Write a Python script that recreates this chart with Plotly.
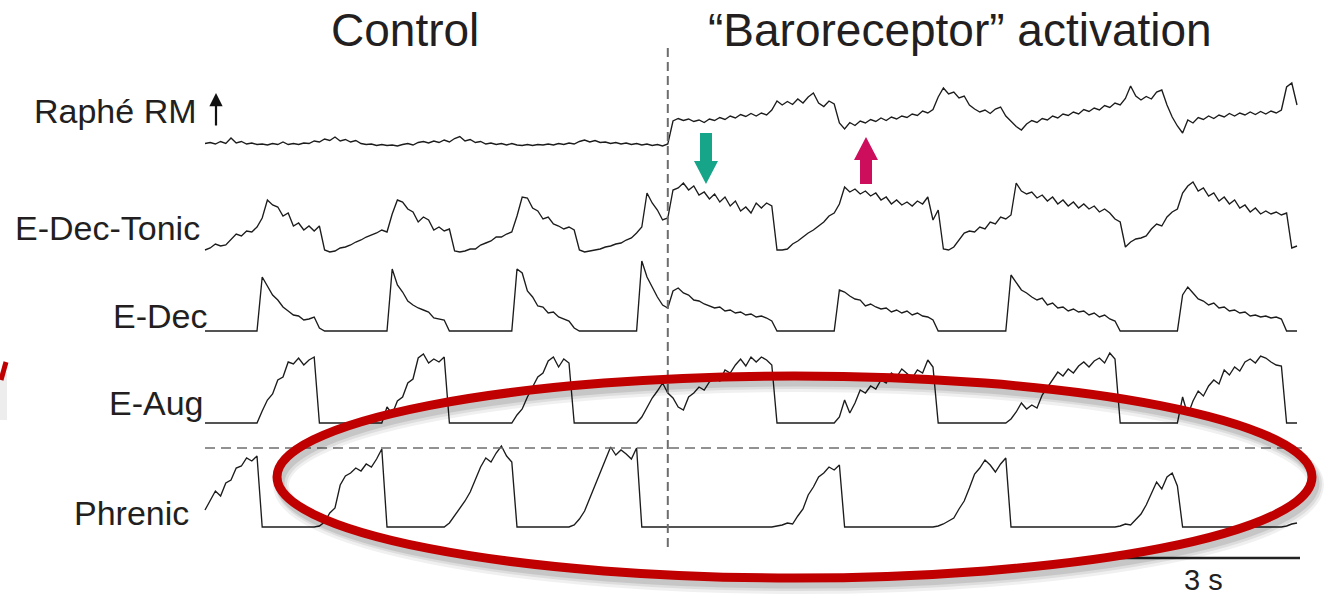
import numpy as np
import plotly.graph_objects as go

W, H = 1327, 597   # figure size (px)
DT = 0.08
PX_PER_S = 65.0    # 3 s scale bar = 195 px
T0_PX = 205        # left edge of traces (px)

raphe_rm = [
    3.5, 4.5, 3.0, 5.5, 3.5, 9.0, 4.0, 5.5, 3.0, 4.0,
    2.5, 3.0, 2.0, 3.5, 2.5, 5.0, 2.5, 3.5, 2.5, 4.0,
    3.5, 6.0, 5.0, 8.0, 6.5, 10.0, 6.0, 7.5, 5.0, 6.5,
    3.5, 2.5, 3.0, 1.5, 2.5, 1.5, 2.0, 1.0, 2.5, 3.5,
    2.0, 4.5, 5.5, 4.0, 6.0, 4.5, 7.0, 5.0, 8.5, 10.5,
    6.0, 7.5, 4.5, 5.5, 3.0, 4.0, 2.5, 3.5, 2.0, 3.5,
    2.0, 1.5, 2.5, 1.5, 2.5, 2.0, 3.0, 2.0, 3.5, 2.5,
    4.0, 3.0, 5.5, 7.0, 5.0, 6.5, 4.5, 5.0, 3.5, 4.5,
    3.0, 4.0, 2.5, 3.5, 2.0, 3.0, 1.5, 2.5, 1.0, 3.0,
    26.0, 28.5, 26.5, 28.0, 25.5, 27.0, 24.5, 28.0, 26.5, 29.5,
    27.5, 31.0, 29.0, 32.5, 30.5, 33.5, 31.0, 34.0, 32.0, 37.0,
    46.0, 42.0, 45.5, 42.5, 48.0, 44.0, 50.0, 54.0, 44.0, 40.5,
    46.0, 43.0, 24.0, 18.0, 24.5, 21.5, 26.0, 24.0, 27.5, 25.5,
    29.0, 26.5, 30.0, 28.0, 31.0, 29.5, 33.0, 31.5, 36.0, 34.0,
    37.5, 50.0, 59.0, 53.0, 55.0, 49.0, 51.0, 42.0, 38.0, 35.0,
    37.0, 33.5, 38.0, 40.0, 31.0, 26.0, 20.5, 17.0, 23.0, 26.5,
    24.5, 28.5, 27.0, 31.0, 29.0, 33.0, 31.5, 35.0, 33.0, 37.5,
    35.5, 39.0, 37.0, 41.5, 39.5, 44.0, 42.0, 48.5, 61.0, 51.0,
    47.0, 50.5, 48.0, 55.0, 57.0, 42.0, 30.0, 21.0, 14.0, 27.0,
    24.0, 29.5, 27.5, 31.0, 28.5, 32.0, 30.0, 33.5, 31.0, 34.0,
    32.0, 35.0, 32.5, 35.5, 33.0, 36.0, 34.0, 37.0, 60.0, 64.0,
    42.0,
]

e_dec_tonic = [
    0.2, 0.4, 0.8, 0.6, 0.7, 1.3, 1.8, 1.6, 2.1, 2.0,
    2.5, 3.4, 5.2, 4.7, 4.5, 3.6, 3.9, 2.6, 2.9, 2.2,
    2.6, 2.1, 2.6, 0.2, 0.0, 0.1, 0.4, 0.5, 0.7, 1.0,
    1.2, 1.5, 1.7, 1.9, 2.2, 2.0, 3.8, 5.2, 5.0, 4.3,
    4.0, 3.0, 3.5, 3.2, 2.2, 2.5, 2.1, 2.3, 0.1, 0.0,
    0.1, 0.3, 0.3, 0.7, 0.9, 1.1, 1.5, 1.5, 1.8, 2.0,
    3.6, 5.5, 5.4, 4.4, 4.1, 3.3, 3.5, 2.8, 2.6, 2.3,
    2.5, 2.2, 0.2, 0.0, 0.1, 0.2, 0.3, 0.5, 0.6, 0.8,
    0.9, 1.2, 1.4, 1.9, 2.5, 5.9, 4.9, 4.2, 3.2, 3.4,
    6.2, 6.4, 6.9, 6.2, 6.6, 5.7, 6.0, 5.3, 5.8, 5.0,
    5.5, 4.6, 5.1, 4.1, 4.5, 3.9, 4.9, 4.4, 4.9, 4.6,
    0.2, 0.2, 0.3, 0.8, 1.1, 1.5, 1.9, 2.2, 2.6, 3.0,
    3.6, 3.9, 4.8, 6.5, 6.0, 6.3, 5.8, 6.1, 5.6, 5.9,
    5.2, 5.5, 4.8, 5.2, 4.7, 5.0, 4.6, 5.1, 4.8, 5.5,
    3.2, 4.2, 0.3, 0.2, 0.5, 1.2, 1.9, 2.1, 2.0, 2.5,
    2.3, 3.0, 2.8, 3.5, 3.3, 3.7, 6.9, 6.1, 5.8, 6.0,
    5.4, 5.7, 5.1, 5.5, 4.8, 5.2, 4.6, 5.0, 4.4, 4.8,
    4.3, 4.6, 4.0, 4.3, 3.9, 3.3, 3.0, 0.5, 1.0, 1.3,
    1.4, 1.6, 2.3, 2.8, 2.6, 3.5, 4.0, 4.3, 5.9, 6.6,
    7.0, 6.1, 6.4, 5.6, 5.9, 5.1, 5.5, 4.8, 5.2, 4.4,
    4.7, 4.0, 4.4, 3.8, 4.1, 3.8, 4.0, 3.7, 3.9, 0.4,
    0.6,
]

e_dec = [
    0, 0, 0, 0, 0, 0, 0, 0, 0, 0,
    0, 5.4, 4.5, 3.6, 3.1, 2.4, 2.0, 1.6, 1.5, 1.1,
    1.2, 1.4, 0.3, 0, 0, 0, 0, 0, 0, 0,
    0, 0, 0, 0, 0, 0, 6.2, 4.6, 3.9, 3.0,
    2.6, 2.3, 2.1, 1.9, 1.3, 1.2, 1.1, 0, 0, 0,
    0, 0, 0, 0, 0, 0, 0, 0, 0, 0,
    6.2, 5.8, 4.0, 3.4, 2.5, 2.4, 1.8, 1.9, 1.4, 1.2,
    1.0, 0.3, 0, 0, 0, 0, 0, 0, 0, 0,
    0, 0, 0, 0, 7.0, 5.4, 4.4, 3.4, 2.6, 2.3,
    4.0, 4.3, 3.8, 3.6, 3.1, 3.0, 2.7, 2.5, 2.3, 2.4,
    2.0, 2.1, 1.8, 1.9, 1.6, 1.7, 1.4, 1.5, 1.3, 1.0,
    0, 0, 0, 0, 0, 0, 0, 0, 0, 0,
    0, 0, 4.1, 3.9, 3.5, 3.2, 3.1, 2.5, 2.7, 2.4,
    2.2, 2.3, 1.9, 2.1, 1.8, 2.0, 1.6, 1.8, 1.5, 1.4,
    1.1, 0, 0, 0, 0, 0, 0, 0, 0, 0,
    0, 0, 0, 0, 0, 5.6, 4.8, 4.1, 3.8, 3.4,
    3.1, 3.3, 2.6, 2.8, 2.3, 2.4, 2.0, 2.2, 1.9, 2.0,
    1.6, 1.8, 1.4, 1.6, 1.2, 1.0, 0, 0, 0, 0,
    0, 0, 0, 0, 0, 0, 0, 0, 3.6, 4.4,
    3.8, 3.2, 3.0, 2.6, 2.8, 2.3, 2.4, 2.0, 2.1, 1.8,
    1.9, 1.5, 1.6, 1.4, 1.5, 1.3, 1.4, 1.2, 0, 0,
    0,
]

e_aug = [
    0, 0, 0, 0, 0, 0, 0, 0, 0, 0,
    0, 1.2, 2.3, 2.9, 4.3, 4.6, 6.1, 5.9, 6.5, 5.8,
    6.3, 6.6, 0, 0, 0, 0, 0, 0, 0, 0,
    0, 0, 0, 0, 0, 1.6, 0.9, 2.2, 2.6, 4.0,
    4.4, 6.5, 6.9, 6.0, 6.4, 6.1, 6.6, 0, 0, 0,
    0, 0, 0, 0, 0, 0, 0, 0, 0, 0,
    0.8, 1.4, 2.6, 3.6, 4.6, 5.0, 6.2, 6.6, 5.6, 6.4,
    6.0, 0, 0, 0, 0, 0, 0, 0, 0, 0,
    0, 0, 0, 0, 0.6, 1.6, 2.5, 3.2, 4.0, 3.0,
    2.5, 1.6, 1.3, 2.6, 3.0, 3.6, 3.3, 4.1, 4.5, 4.2,
    5.3, 5.0, 5.8, 6.4, 5.7, 6.6, 6.1, 6.6, 6.3, 5.8,
    0, 0, 0, 0, 0, 0, 0, 0, 0, 0,
    0, 0, 0.6, 2.3, 1.0, 2.0, 3.3, 3.0, 3.7, 3.4,
    4.3, 4.0, 5.0, 4.6, 5.4, 4.9, 4.5, 5.3, 5.0, 6.3,
    5.6, 0, 0, 0, 0, 0, 0, 0, 0, 0,
    0, 0, 0, 0, 0, 0.4, 1.1, 2.0, 1.4, 1.8,
    1.5, 2.8, 3.6, 4.4, 5.1, 4.7, 5.4, 5.0, 5.7, 6.1,
    5.6, 6.2, 6.5, 6.0, 7.0, 6.4, 0, 0, 0, 0,
    0, 0, 0, 0, 0, 0, 0, 0, 2.6, 0.8,
    2.2, 3.2, 2.7, 3.7, 4.3, 3.9, 5.3, 4.8, 5.6, 5.2,
    6.1, 6.4, 6.0, 6.7, 6.5, 6.1, 5.8, 5.7, 0, 0,
    0,
]

phrenic = [
    1.7, 2.6, 3.6, 3.1, 4.4, 4.7, 5.9, 6.1, 6.9, 6.6,
    7.1, 0, 0, 0, 0, 0, 0, 0, 0, 0,
    0, 0, 0.1, 0.5, 1.4, 1.9, 4.2, 5.1, 5.4, 5.9,
    5.6, 6.3, 6.0, 6.8, 7.8, 0, 0, 0, 0, 0,
    0, 0, 0, 0, 0, 0, 0, 0.4, 1.1, 1.8,
    2.6, 3.5, 4.8, 6.0, 6.9, 6.5, 7.4, 8.1, 7.1, 6.5,
    0, 0, 0, 0, 0, 0, 0, 0, 0, 0,
    0, 0.2, 0.8, 1.6, 2.9, 4.0, 5.4, 6.6, 8.0, 7.2,
    7.7, 7.3, 6.8, 7.9, 0, 0, 0, 0, 0, 0,
    0, 0, 0, 0, 0, 0, 0, 0, 0, 0,
    0, 0, 0, 0, 0, 0, 0, 0, 0, 0,
    0.1, 0.2, 0.4, 0.3, 1.1, 1.8, 3.2, 4.0, 5.0, 5.4,
    6.0, 5.7, 6.2, 0, 0, 0, 0, 0, 0, 0,
    0, 0, 0, 0, 0, 0, 0, 0, 0, 0,
    0, 0.1, 0.3, 0.6, 0.9, 1.8, 2.6, 3.9, 5.3, 5.9,
    6.7, 6.2, 5.5, 6.3, 6.9, 0, 0, 0, 0, 0,
    0, 0, 0, 0, 0, 0, 0, 0, 0, 0,
    0, 0, 0, 0, 0, 0, 0.1, 0.3, 0.2, 0.8,
    1.3, 2.2, 3.4, 4.5, 3.8, 5.0, 5.4, 4.1, 0, 0,
    0, 0, 0, 0, 0, 0, 0, 0, 0, 0,
    0, 0, 0, 0, 0, 0, 0, 0, 0.1, 0.3,
    0.4,
]

trace_labels = ["Raphé RM", "E-Dec-Tonic", "E-Dec", "E-Aug", "Phrenic"]
section_titles = ["Control", "\u201cBaroreceptor\u201d activation"]
stim_onset_s = 7.12        # dashed vertical line
scale_bar_s = 3.0
scale_bar_label = "3 s"

# ---------------- layout helpers (positions in px of the picture) ----------------
def xp(px):
    return px / W


def yp(py):
    return 1 - py / H


def row(py):  # y-axis unit = 10 px, measured from the bottom
    return (H - py) / 10.0


traces_cfg = [
    (raphe_rm, row(147), 0.1),
    (e_dec_tonic, row(252), 1.0),
    (e_dec, row(331), 1.0),
    (e_aug, row(423), 1.0),
    (phrenic, row(527), 1.0),
]

fig = go.Figure()
for vals, off, gain in traces_cfg:
    v = np.asarray(vals, dtype=float)
    t = np.arange(len(v)) * DT
    fig.add_trace(go.Scatter(x=t, y=off + gain * v, mode="lines",
                             line=dict(color="#1c1c1c", width=1.35),
                             hoverinfo="skip", showlegend=False))

x_lo = -T0_PX / PX_PER_S
x_hi = (W - T0_PX) / PX_PER_S

FONT = "Liberation Sans, Arial, Helvetica, sans-serif"
TXT = "#231f20"

ann = []
ann.append(dict(x=xp(405), y=yp(30), xref="paper", yref="paper", text=section_titles[0],
                xanchor="center", yanchor="middle", showarrow=False,
                font=dict(family=FONT, size=46, color=TXT)))
ann.append(dict(x=xp(960), y=yp(30), xref="paper", yref="paper", text=section_titles[1],
                xanchor="center", yanchor="middle", showarrow=False,
                font=dict(family=FONT, size=46, color=TXT)))
label_pos = [(199, 111), (202, 228), (209, 316), (206, 403), (191, 513)]
for lab, (lx, ly) in zip(trace_labels, label_pos):
    ann.append(dict(x=xp(lx), y=yp(ly), xref="paper", yref="paper", text=lab,
                    xanchor="right", yanchor="middle", showarrow=False,
                    font=dict(family=FONT, size=34, color=TXT)))
ann.append(dict(x=xp(216), y=yp(93), xref="paper", yref="paper", text="",
                showarrow=True, ax=0, ay=34, arrowhead=2, arrowsize=1.2,
                arrowwidth=2.2, arrowcolor="#111"))
ann.append(dict(x=xp(1203), y=yp(580), xref="paper", yref="paper", text=scale_bar_label,
                xanchor="center", yanchor="middle", showarrow=False,
                font=dict(family=FONT, size=29, color=TXT)))

shapes = []
sx = T0_PX + stim_onset_s * PX_PER_S
shapes.append(dict(type="line", xref="paper", yref="paper", x0=xp(sx), x1=xp(sx),
                   y0=yp(48), y1=yp(550), line=dict(color="#6d6d6d", width=2, dash="9px,5px")))
shapes.append(dict(type="line", xref="paper", yref="paper", x0=xp(205), x1=xp(1302),
                   y0=yp(448), y1=yp(448), line=dict(color="#6d6d6d", width=1.6, dash="10px,6px")))
shapes.append(dict(type="line", xref="paper", yref="paper",
                   x0=xp(1300 - scale_bar_s * PX_PER_S), x1=xp(1300), y0=yp(558), y1=yp(558),
                   line=dict(color="#222", width=2.5)))
teal = [(700, 133), (712, 133), (712, 161), (718, 161), (706, 184), (694, 161), (700, 161)]
shapes.append(dict(type="path", xref="paper", yref="paper",
                   path="M " + " L ".join(f"{xp(a):.5f},{yp(b):.5f}" for a, b in teal) + " Z",
                   fillcolor="#17a589", line=dict(width=0)))
mag = [(860, 184), (872, 184), (872, 160), (878, 160), (866, 137), (854, 160), (860, 160)]
shapes.append(dict(type="path", xref="paper", yref="paper",
                   path="M " + " L ".join(f"{xp(a):.5f},{yp(b):.5f}" for a, b in mag) + " Z",
                   fillcolor="#cc0e5c", line=dict(width=0)))
for dx, dy, w, a in [(4, 8, 16, 0.06), (4, 7, 12, 0.08), (3, 6, 9, 0.10)]:
    shapes.append(dict(type="circle", xref="paper", yref="paper",
                       x0=xp(277 + dx), x1=xp(1312 + dx), y0=yp(578 + dy), y1=yp(376 + dy),
                       line=dict(color=f"rgba(0,0,0,{a})", width=w)))
shapes.append(dict(type="circle", xref="paper", yref="paper",
                   x0=xp(277), x1=xp(1312), y0=yp(578), y1=yp(376),
                   line=dict(color="#c00000", width=9)))
# fragment of another red outline at the left edge, with its soft shadow
shapes.append(dict(type="line", xref="paper", yref="paper", x0=xp(3), x1=xp(3), y0=yp(372), y1=yp(420),
                   line=dict(color="rgba(0,0,0,0.07)", width=8)))
shapes.append(dict(type="line", xref="paper", yref="paper", x0=xp(6), x1=xp(1), y0=yp(362), y1=yp(380),
                   line=dict(color="#c00000", width=5)))

fig.update_layout(
    width=W, height=H, margin=dict(l=0, r=0, t=0, b=0),
    paper_bgcolor="white", plot_bgcolor="white",
    xaxis=dict(range=[x_lo, x_hi], visible=False, fixedrange=True),
    yaxis=dict(range=[0, row(0)], visible=False, fixedrange=True),
    annotations=ann, shapes=shapes, showlegend=False,
)

# remove the browser's default page margin so the figure fills the window exactly
fig.write_html("out.html",
               config={"displayModeBar": False, "staticPlot": True},
               post_script="document.body.style.margin='0';document.body.style.overflow='hidden';")
